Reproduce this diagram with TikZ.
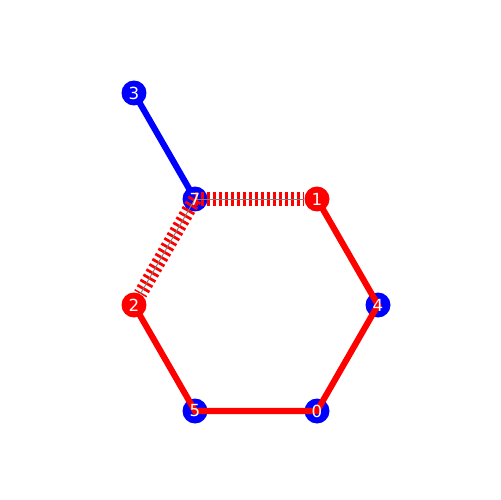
\documentclass[tikz,border=0pt]{standalone}
\usepackage{fontspec}
\setmainfont{DejaVu Sans}
\usepackage{tikz}
\usetikzlibrary{calc}
\definecolor{atomred}{HTML}{FF0000}
\definecolor{atomblue}{HTML}{0000FF}

\begin{document}
\begin{tikzpicture}[
        x=0.02cm, y=-0.02cm,
        atom/.style={circle, inner sep=0pt, minimum size=0.5cm},
        redatom/.style={atom, fill=atomred},
        blueatom/.style={atom, fill=atomblue},
        lbl/.style={text=white, font=\fontsize{9.5}{11}\selectfont, inner sep=0pt},
        bond/.style={line width=3.5pt},
        hashbond/.style={draw=atomred, line width=0.28cm, dash pattern=on 0.055cm off 0.065cm},
        hashaxis/.style={draw=black!50, line width=0.5pt}
    ]
    \useasboundingbox (0,0) rectangle (500,500);

    % atome
    \node[blueatom] (n3) at (134,93) {};
    \node[blueatom] (n7) at (195,199) {};
    \node[redatom]  (n1) at (317,199) {};
    \node[blueatom] (n4) at (378,305) {};
    \node[blueatom] (n0) at (317,411) {};
    \node[blueatom] (n5) at (195,411) {};
    \node[redatom]  (n2) at (134,305) {};

    % ikatan penuh
    \draw[bond, atomblue] (n3.center) -- (n7.center);
    \draw[bond, atomred] (n1.center) -- (n4.center) -- (n0.center) -- (n5.center) -- (n2.center);

    % ikatan hash
    \foreach \b in {n1,n2}{
        \draw[hashbond] (n7.center) -- (\b);
        \draw[hashaxis] (n7.center) -- (\b);
    }

    % label
    \foreach \i in {0,1,2,3,4,5,7}
    \node[lbl] (l\i) at (n\i) {\i};
\end{tikzpicture}
\end{document}
